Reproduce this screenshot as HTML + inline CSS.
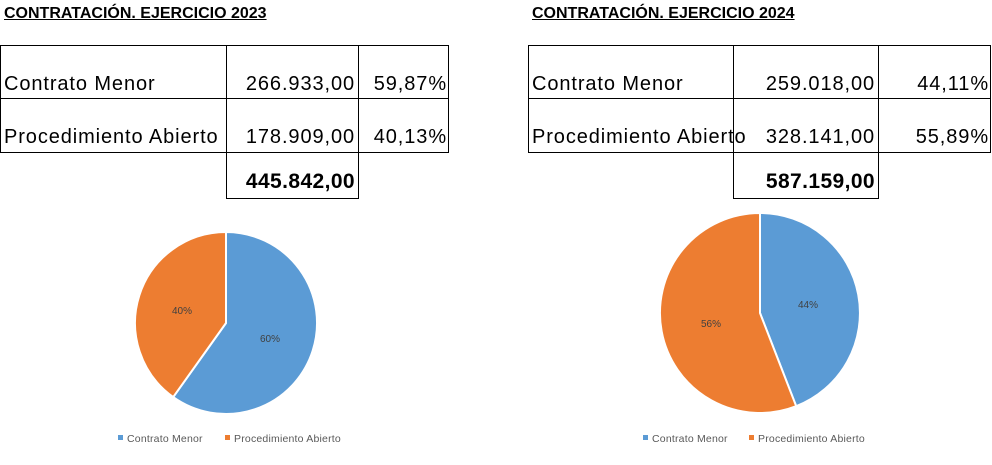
<!DOCTYPE html>
<html><head><meta charset="utf-8"><style>
body{margin:0;background:#fff;width:992px;height:465px;overflow:hidden;font-family:"Liberation Sans",sans-serif;}
.t{position:absolute;font-weight:bold;font-size:16px;text-decoration:underline;color:#000}
.tx{position:absolute;font-size:20px;letter-spacing:0.9px;color:#000;white-space:nowrap}
.tot{font-weight:bold;font-size:21px;letter-spacing:0.4px}
.ln{position:absolute;background:#000}
</style></head><body>
<div class="t" style="left:4px;top:5px">CONTRATACIÓN. EJERCICIO 2023</div>
<div class="t" style="left:532px;top:5px">CONTRATACIÓN. EJERCICIO 2024</div>

<div class="ln" style="left:0;top:45px;width:449px;height:1px"></div>
<div class="ln" style="left:0;top:98px;width:449px;height:1px"></div>
<div class="ln" style="left:0;top:152px;width:449px;height:1px"></div>
<div class="ln" style="left:0;top:45px;width:1px;height:108px"></div>
<div class="ln" style="left:448px;top:45px;width:1px;height:108px"></div>
<div class="ln" style="left:226px;top:45px;width:1px;height:154px"></div>
<div class="ln" style="left:358px;top:45px;width:1px;height:154px"></div>
<div class="ln" style="left:226px;top:198px;width:133px;height:1px"></div>
<div class="tx" style="left:4px;top:73px">Contrato Menor</div>
<div class="tx" style="right:637px;top:73px">266.933,00</div>
<div class="tx" style="right:545px;top:73px">59,87%</div>
<div class="tx" style="left:4px;top:126px">Procedimiento Abierto</div>
<div class="tx" style="right:637px;top:126px">178.909,00</div>
<div class="tx" style="right:545px;top:126px">40,13%</div>
<div class="tx tot" style="right:637px;top:170px">445.842,00</div>

<div class="ln" style="left:528px;top:45px;width:463px;height:1px"></div>
<div class="ln" style="left:528px;top:98px;width:463px;height:1px"></div>
<div class="ln" style="left:528px;top:152px;width:463px;height:1px"></div>
<div class="ln" style="left:528px;top:45px;width:1px;height:108px"></div>
<div class="ln" style="left:990px;top:45px;width:1px;height:108px"></div>
<div class="ln" style="left:733px;top:45px;width:1px;height:154px"></div>
<div class="ln" style="left:878px;top:45px;width:1px;height:154px"></div>
<div class="ln" style="left:733px;top:198px;width:146px;height:1px"></div>
<div class="tx" style="left:532px;top:73px">Contrato Menor</div>
<div class="tx" style="right:117px;top:73px">259.018,00</div>
<div class="tx" style="right:3px;top:73px">44,11%</div>
<div class="tx" style="left:532px;top:126px">Procedimiento Abierto</div>
<div class="tx" style="right:117px;top:126px">328.141,00</div>
<div class="tx" style="right:3px;top:126px">55,89%</div>
<div class="tx tot" style="right:117px;top:170px">587.159,00</div>

<svg width="992" height="465" style="position:absolute;left:0;top:0" font-family="Liberation Sans, sans-serif">
<path d="M226,323 L226,232 A91,91 0 1 1 173.2,397.1 Z" fill="#5b9bd5" stroke="#fff" stroke-width="2"/>
<path d="M226,323 L173.2,397.1 A91,91 0 0 1 226,232 Z" fill="#ed7d31" stroke="#fff" stroke-width="2"/>
<text x="270" y="342" font-size="10" fill="#404040" text-anchor="middle">60%</text>
<text x="182" y="314" font-size="10" fill="#404040" text-anchor="middle">40%</text>

<path d="M760,313 L760,213 A100,100 0 0 1 796.2,406.2 Z" fill="#5b9bd5" stroke="#fff" stroke-width="2"/>
<path d="M760,313 L796.2,406.2 A100,100 0 1 1 760,213 Z" fill="#ed7d31" stroke="#fff" stroke-width="2"/>
<text x="808" y="308" font-size="10" fill="#404040" text-anchor="middle">44%</text>
<text x="711" y="327" font-size="10" fill="#404040" text-anchor="middle">56%</text>

<g font-size="10.5" fill="#595959" letter-spacing="0.2">
<rect x="118" y="435" width="5" height="5" fill="#5b9bd5"/><text x="127" y="442">Contrato Menor</text>
<rect x="225" y="435" width="5" height="5" fill="#ed7d31"/><text x="234" y="442">Procedimiento Abierto</text>
<rect x="643" y="435" width="5" height="5" fill="#5b9bd5"/><text x="652" y="442">Contrato Menor</text>
<rect x="749" y="435" width="5" height="5" fill="#ed7d31"/><text x="758" y="442">Procedimiento Abierto</text>
</g>
</svg>
</body></html>
